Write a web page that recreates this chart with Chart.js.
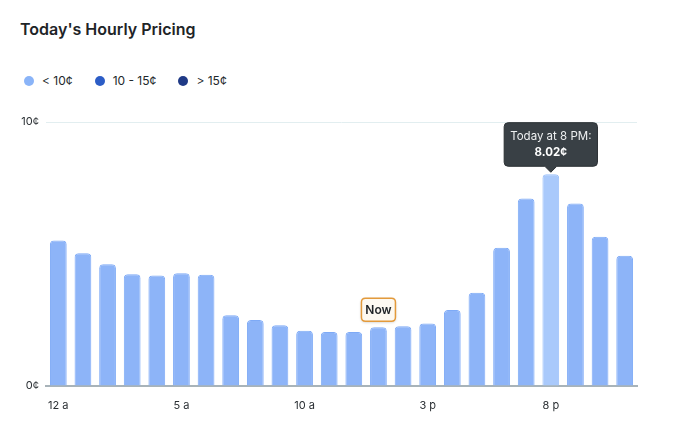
<!DOCTYPE html>
<html>
<head>
<meta charset="utf-8">
<script src="https://cdn.jsdelivr.net/npm/chart.js@4.4.1/dist/chart.umd.min.js"></script>
<style>
  html, body { margin: 0; padding: 0; background: #fff; }
  #wrap { position: relative; width: 690px; height: 433px; font-family: Inter, "Noto Sans", sans-serif; }
  #wrap canvas { position: absolute; left: 0; top: 0; }
  .title { position: absolute; left: 20px; top: 17px; margin: 0; font-size: 16px; font-weight: 600; color: #1e2427; line-height: 24px; }
  .legend { position: absolute; left: 24px; top: 73px; margin: 0; padding: 0; list-style: none; display: flex; font-size: 12px; color: #22282b; line-height: 16px; }
  .legend li { display: flex; align-items: center; margin-right: 22px; }
  .legend .dot { width: 10px; height: 10px; border-radius: 50%; margin-right: 8px; }
</style>
</head>
<body>
<div id="wrap">
  <h1 class="title">Today's Hourly Pricing</h1>
  <ul class="legend" id="legend"></ul>
  <canvas id="chart" width="690" height="433"></canvas>
</div>
<script>
  'use strict';

  const HOURS = ['12 a', '1 a', '2 a', '3 a', '4 a', '5 a', '6 a', '7 a', '8 a', '9 a', '10 a', '11 a',
    '12 p', '1 p', '2 p', '3 p', '4 p', '5 p', '6 p', '7 p', '8 p', '9 p', '10 p', '11 p'];
  // cents per kWh
  const PRICES = [5.51, 5.03, 4.61, 4.23, 4.19, 4.27, 4.21, 2.68, 2.50, 2.30, 2.09, 2.05,
    2.05, 2.23, 2.26, 2.37, 2.88, 3.53, 5.24, 7.10, 8.02, 6.91, 5.65, 4.93];
  const Y_TICKS = [0, 10];
  const TIER_LABELS = ['< 10¢', '10 - 15¢', '> 15¢'];
  const TIER_COLORS = ['#8ab4f8', '#2c5dc6', '#1f3a86'];

  const NOW_INDEX = 13;
  const ACTIVE_INDEX = 20;

  const BAR = '#8db4f8';
  const BAR_EDGE = '#7eaaf6';
  const BAR_ACTIVE = '#a9c9fb';
  const BAR_ACTIVE_EDGE = '#98bef9';

  const legendEl = document.getElementById('legend');
  TIER_LABELS.forEach(function (label, i) {
    const li = document.createElement('li');
    const dot = document.createElement('span');
    dot.className = 'dot';
    dot.style.background = TIER_COLORS[i];
    li.appendChild(dot);
    li.appendChild(document.createTextNode(label));
    legendEl.appendChild(li);
  });

  function longHour(label) {
    const parts = label.split(' ');
    return parts[0] + ' ' + (parts[1] === 'a' ? 'AM' : 'PM');
  }

  function roundRect(ctx, x, y, w, h, r) {
    ctx.beginPath();
    ctx.moveTo(x + r, y);
    ctx.lineTo(x + w - r, y);
    ctx.quadraticCurveTo(x + w, y, x + w, y + r);
    ctx.lineTo(x + w, y + h - r);
    ctx.quadraticCurveTo(x + w, y + h, x + w - r, y + h);
    ctx.lineTo(x + r, y + h);
    ctx.quadraticCurveTo(x, y + h, x, y + h - r);
    ctx.lineTo(x, y + r);
    ctx.quadraticCurveTo(x, y, x + r, y);
    ctx.closePath();
  }

  const nowBadge = {
    id: 'nowBadge',
    afterDatasetsDraw(chart) {
      const bar = chart.getDatasetMeta(0).data[NOW_INDEX];
      if (!bar) return;
      const ctx = chart.ctx;
      const w = 34, h = 23;
      const x = bar.x - w / 2;
      const y = bar.y - 6 - h;
      ctx.save();
      ctx.shadowColor = 'rgba(0, 0, 0, 0.22)';
      ctx.shadowBlur = 3;
      ctx.shadowOffsetY = 1;
      roundRect(ctx, x, y, w, h, 4);
      ctx.fillStyle = '#fdf9f1';
      ctx.fill();
      ctx.shadowColor = 'transparent';
      ctx.strokeStyle = '#e39a3b';
      ctx.lineWidth = 1.5;
      ctx.stroke();
      ctx.fillStyle = '#1f2326';
      ctx.font = '600 12px Inter, "Noto Sans", sans-serif';
      ctx.textAlign = 'center';
      ctx.textBaseline = 'middle';
      ctx.fillText('Now', bar.x, y + h / 2 + 0.5);
      ctx.restore();
    },
  };

  Chart.defaults.font.family = 'Inter, "Noto Sans", sans-serif';

  const chart = new Chart(document.getElementById('chart'), {
    type: 'bar',
    data: {
      labels: HOURS,
      datasets: [{
        data: PRICES,
        backgroundColor: function (c) { return c.dataIndex === ACTIVE_INDEX ? BAR_ACTIVE : BAR; },
        borderColor: function (c) { return c.dataIndex === ACTIVE_INDEX ? BAR_ACTIVE_EDGE : BAR_EDGE; },
        hoverBackgroundColor: BAR_ACTIVE,
        hoverBorderColor: BAR_ACTIVE_EDGE,
        borderWidth: 1,
        borderRadius: { topLeft: 4, topRight: 4 },
        borderSkipped: 'bottom',
        barPercentage: 0.68,
        categoryPercentage: 1,
      }],
    },
    options: {
      responsive: false,
      animation: false,
      events: [],
      layout: { padding: { top: 122, left: 20, right: 53, bottom: 0 } },
      plugins: {
        legend: { display: false },
        title: { display: false },
        tooltip: {
          enabled: true,
          yAlign: 'bottom',
          xAlign: 'center',
          backgroundColor: '#394045',
          borderColor: '#2a2f33',
          borderWidth: 1,
          cornerRadius: 4,
          caretSize: 6,
          caretPadding: 2,
          displayColors: false,
          padding: { left: 6, right: 6, top: 7, bottom: 7 },
          titleAlign: 'center',
          bodyAlign: 'center',
          titleColor: '#eef0f1',
          bodyColor: '#ffffff',
          titleFont: { size: 11.5, weight: '400' },
          bodyFont: { size: 11.5, weight: '700' },
          titleMarginBottom: 2,
          callbacks: {
            title: function (items) { return 'Today at ' + longHour(HOURS[items[0].dataIndex]) + ':'; },
            label: function (item) { return item.parsed.y.toFixed(2) + '¢'; },
          },
        },
      },
      scales: {
        x: {
          grid: { display: false, drawTicks: false },
          border: { display: true, color: '#a8b3b9', width: 2 },
          afterFit: function (scale) { scale.height = 47; },
          ticks: {
            autoSkip: false,
            maxRotation: 0,
            minRotation: 0,
            padding: 13,
            color: '#2a2f33',
            font: { size: 11 },
            callback: function (v, i) { return i % 5 === 0 ? HOURS[i] : ''; },
          },
        },
        y: {
          min: Y_TICKS[0],
          max: Y_TICKS[Y_TICKS.length - 1],
          afterFit: function (scale) { scale.width = 26; },
          afterBuildTicks: function (scale) { scale.ticks = Y_TICKS.map(function (v) { return { value: v }; }); },
          border: { display: false },
          grid: {
            drawTicks: false,
            color: function (c) { return c.tick && c.tick.value === 0 ? 'rgba(0,0,0,0)' : '#e2eef0'; },
          },
          ticks: {
            padding: 7,
            color: '#2a2f33',
            font: { size: 11 },
            callback: function (v) { return v + '¢'; },
          },
        },
      },
    },
    plugins: [nowBadge],
  });

  const active = [{ datasetIndex: 0, index: ACTIVE_INDEX }];
  chart.setActiveElements(active);
  chart.tooltip.setActiveElements(active, { x: 0, y: 0 });
  chart.update();
</script>
</body>
</html>
